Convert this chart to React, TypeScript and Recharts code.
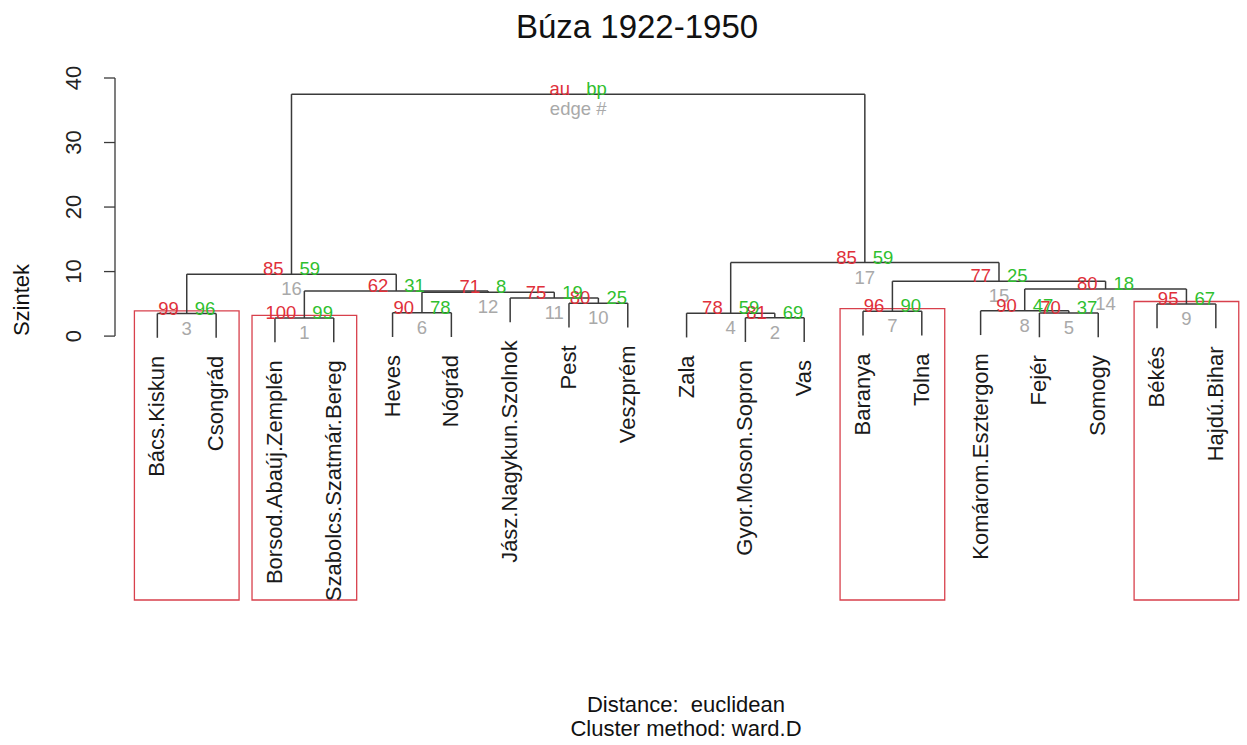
import { ComposedChart, XAxis, YAxis, Scatter, ReferenceLine, ReferenceArea } from 'recharts';

// leaves in dendrogram order (x position = index + 1)
const leafNames = [
    'Bács.Kiskun', 'Csongrád', 'Borsod.Abaúj.Zemplén', 'Szabolcs.Szatmár.Bereg', 'Heves', 'Nógrád',
    'Jász.Nagykun.Szolnok', 'Pest', 'Veszprém', 'Zala', 'Gyor.Moson.Sopron', 'Vas', 'Baranya', 'Tolna',
    'Komárom.Esztergom', 'Fejér', 'Somogy', 'Békés', 'Hajdú.Bihar',
];

// hclust-style merges: negative = leaf position, positive = earlier merge (edge #)
const mergeLeft = [-3, -11, -1, -10, -16, -5, -13, -15, -18, -8, -7, 6, 1, 8, 7, 3, 4, 16];
const mergeRight = [-4, -12, -2, 2, -17, -6, -14, 5, -19, -9, 10, 11, 12, 9, 14, 13, 15, 17];
const mergeHeight = [2.8, 2.85, 3.5, 3.55, 3.58, 3.62, 3.85, 3.92, 4.96, 5.1, 5.9, 6.8, 7.0, 7.3, 8.5, 9.6, 11.4, 37.5];
const auValues = [100, 81, 99, 78, 70, 90, 96, 90, 95, 80, 75, 71, 62, 80, 77, 85, 85];
const bpValues = [99, 69, 96, 59, 37, 78, 90, 47, 67, 25, 19, 8, 31, 18, 25, 59, 59];
// edge numbers that are not readable in the picture (covered by other labels)
const hiddenEdges = [13];

const yTicks = [0, 10, 20, 30, 40];

const HANG = 3.76;
const ALPHA = 95;
const RED = '#e0303a';
const GREEN = '#2fbf2f';
const GRAY = '#a9a9a9';
const LINE = '#3a3a3a';
const FONT = '"Liberation Sans", Arial, sans-serif';

const nodeX: number[] = [];
const childX = (c: number) => (c < 0 ? -c : nodeX[c - 1]);
mergeLeft.forEach((l, k) => nodeX.push((childX(l) + childX(mergeRight[k])) / 2));

const members = (c: number): number[] =>
    c < 0 ? [-c] : [...members(mergeLeft[c - 1]), ...members(mergeRight[c - 1])];

const segments: { x1: number; y1: number; x2: number; y2: number }[] = [];
const leafEnd: number[] = new Array(leafNames.length).fill(0);
mergeLeft.forEach((l, k) => {
    const r = mergeRight[k];
    const h = mergeHeight[k];
    [l, r].forEach((c) => {
        const bottom = c < 0 ? h - HANG : mergeHeight[c - 1];
        if (c < 0) leafEnd[-c - 1] = bottom;
        segments.push({ x1: childX(c), y1: bottom, x2: childX(c), y2: h });
    });
    segments.push({ x1: childX(l), y1: h, x2: childX(r), y2: h });
});

const rootIdx = mergeHeight.length - 1;
const auData = mergeHeight.map((h, k) => ({ x: nodeX[k], y: h, text: k === rootIdx ? 'au' : String(auValues[k]) }));
const bpData = mergeHeight.map((h, k) => ({ x: nodeX[k], y: h, text: k === rootIdx ? 'bp' : String(bpValues[k]) }));
const edgeData = mergeHeight
    .map((h, k) => ({ x: nodeX[k], y: h, edge: k + 1, text: k === rootIdx ? 'edge #' : String(k + 1) }))
    .filter((d) => !hiddenEdges.includes(d.edge));
const leafData = leafNames.map((name, i) => ({ x: i + 1, y: leafEnd[i], text: name }));

// pvrect: highest clusters with au >= alpha
const boxes: { x1: number; x2: number; y2: number }[] = [];
const covered = new Set<number>();
for (let k = auValues.length - 1; k >= 0; k--) {
    if (auValues[k] >= ALPHA) {
        const m = members(k + 1);
        if (!m.some((i) => covered.has(i))) {
            boxes.push({ x1: Math.min(...m) - 0.39, x2: Math.max(...m) + 0.39, y2: mergeHeight[k] + 0.4 });
        }
        m.forEach((i) => covered.add(i));
    }
}

const textLabel = (color: string, size: number, dx: number, dy: number, anchor: string) => (p: any) => {
    const d = p.payload ?? p;
    return (
        <text x={p.cx + dx} y={p.cy + dy} textAnchor={anchor} fill={color} fontSize={size} fontFamily={FONT}>
            {d.text}
        </text>
    );
};

const LeafLabel = (p: any) => {
    const d = p.payload ?? p;
    const x = p.cx + 7;
    const y = p.cy + 18;
    return (
        <text x={x} y={y} transform={`rotate(-90 ${x} ${y})`} textAnchor="end" fill="#1a1a1a" fontSize={22} fontFamily={FONT}>
            {d.text}
        </text>
    );
};

const YTick = (p: any) => {
    const x = p.x - 21;
    return (
        <text x={x} y={p.y} transform={`rotate(-90 ${x} ${p.y})`} textAnchor="middle" fill="#222" fontSize={22} fontFamily={FONT}>
            {p.payload.value}
        </text>
    );
};

export default function App() {
    return (
        <div style={{ position: 'absolute', left: 0, top: 0, width: 1247, height: 745, background: '#fff', fontFamily: FONT }}>
            <div style={{ position: 'absolute', left: 637, top: 10, transform: 'translateX(-50%)', fontSize: 33, lineHeight: 1, whiteSpace: 'nowrap', color: '#111' }}>
                Búza 1922-1950
            </div>
            <div style={{ position: 'absolute', left: 22, top: 300, transform: 'translate(-50%, -50%) rotate(-90deg)', fontSize: 22, lineHeight: 1, whiteSpace: 'nowrap', color: '#111' }}>
                Szintek
            </div>
            <div style={{ position: 'absolute', left: 686, top: 694, transform: 'translateX(-50%)', fontSize: 22, lineHeight: 1, whiteSpace: 'pre', color: '#111' }}>
                {'Distance:  euclidean'}
            </div>
            <div style={{ position: 'absolute', left: 686, top: 718, transform: 'translateX(-50%)', fontSize: 22, lineHeight: 1, whiteSpace: 'nowrap', color: '#111' }}>
                Cluster method: ward.D
            </div>
            <ComposedChart width={1247} height={745} margin={{ top: 78, right: 0, bottom: 125, left: 0 }}>
                <XAxis type="number" dataKey="x" domain={[0.28, 19.53]} hide />
                <YAxis
                    type="number"
                    dataKey="y"
                    domain={[-44, 40]}
                    ticks={yTicks}
                    width={115}
                    axisLine={false}
                    tickLine={{ stroke: LINE, strokeWidth: 1.3 }}
                    tickSize={11}
                    tick={<YTick />}
                />
                <ReferenceLine
                    segment={[{ x: 0.28, y: yTicks[0] }, { x: 0.28, y: yTicks[yTicks.length - 1] }]}
                    stroke={LINE}
                    strokeWidth={1.3}
                    ifOverflow="visible"
                />
                {boxes.map((b, i) => (
                    <ReferenceArea
                        key={`box-${i}`}
                        x1={b.x1}
                        x2={b.x2}
                        y1={-40.9}
                        y2={b.y2}
                        fill="none"
                        fillOpacity={0}
                        stroke="#d8404c"
                        strokeWidth={1.3}
                        ifOverflow="visible"
                    />
                ))}
                {segments.map((s, i) => (
                    <ReferenceLine
                        key={`seg-${i}`}
                        segment={[{ x: s.x1, y: s.y1 }, { x: s.x2, y: s.y2 }]}
                        stroke={LINE}
                        strokeWidth={1.5}
                        ifOverflow="visible"
                    />
                ))}
                <Scatter data={edgeData} dataKey="y" isAnimationActive={false} shape={textLabel(GRAY, 18.5, 0, 21, 'middle')} />
                <Scatter data={auData} dataKey="y" isAnimationActive={false} shape={textLabel(RED, 18.5, -8, 1, 'end')} />
                <Scatter data={bpData} dataKey="y" isAnimationActive={false} shape={textLabel(GREEN, 18.5, 8, 1, 'start')} />
                <Scatter data={leafData} dataKey="y" isAnimationActive={false} shape={<LeafLabel />} />
            </ComposedChart>
        </div>
    );
}
